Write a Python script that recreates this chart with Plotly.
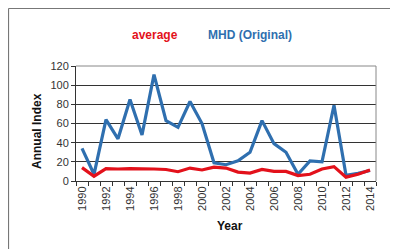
import plotly.graph_objects as go

years = [str(y) for y in range(1990, 2015)]
mhd_original = [34, 7, 64, 44, 85, 48, 111, 63, 56, 83, 60, 19, 17, 21, 30, 63, 39, 30, 7, 21, 20, 79, 6, 8, 11]
average = [14, 5, 13, 12.5, 13, 13, 12.5, 12, 9.7, 13.5, 11.5, 14.5, 13.5, 9.3, 8.3, 12, 10, 10, 5.6, 7, 12.5, 15, 4, 7, 11.5]
y_ticks = [0, 20, 40, 60, 80, 100, 120]
x_tick_text = [y if i % 2 == 0 else "" for i, y in enumerate(years)]

# page body has an 8px default margin; work in screen coords minus 8
OFF = 8
W, H = 398, 249
ml, mt = 76 - OFF, 66 - OFF
pw, ph = 300, 115
mr = W - ml - pw
mb = H - mt - ph

def px(x):
    return (x - OFF - ml) / pw

def py(y):
    return (H - mb - (y - OFF)) / ph

fig = go.Figure()
fig.add_trace(go.Scatter(x=years, y=mhd_original, mode="lines", name="MHD (Original)",
                         line=dict(color="#2F6FAF", width=3.2)))
fig.add_trace(go.Scatter(x=years, y=average, mode="lines", name="average",
                         line=dict(color="#E3111B", width=3.2)))

fig.update_layout(
    width=W, height=H,
    margin=dict(l=ml, r=mr, t=mt, b=mb),
    paper_bgcolor="white", plot_bgcolor="white",
    showlegend=False,
    font=dict(family="Liberation Sans, Arial", color="#222222", size=11),
)
fig.update_xaxes(
    type="category", tickangle=-90, tickson="boundaries", ticks="outside",
    ticklen=4, tickcolor="#333333", showline=True, linecolor="#333333", linewidth=1,
    tickvals=years, ticktext=x_tick_text,
    tickfont=dict(size=11, color="#333333"), showgrid=False,
    mirror=False, range=[-0.5, 24.5],
)
fig.update_yaxes(
    range=[0, 120], tickvals=y_ticks, ticks="outside", ticklen=4, tickcolor="#333333",
    showline=True, linecolor="#333333", linewidth=1, showgrid=True,
    gridcolor="#333333", gridwidth=1, tickfont=dict(size=11, color="#333333"),
    zeroline=False,
)
# plot area border right/top
fig.add_shape(type="line", xref="paper", yref="paper", x0=1, x1=1, y0=0, y1=1,
              line=dict(color="#888888", width=1))
fig.add_shape(type="line", xref="paper", yref="paper", x0=0, x1=1, y0=1, y1=1,
              line=dict(color="#888888", width=1))
# outer chart frame
fig.add_shape(type="line", xref="paper", yref="paper", x0=px(8.5), x1=px(420), y0=py(8.5), y1=py(8.5),
              line=dict(color="#777777", width=1.2))
fig.add_shape(type="line", xref="paper", yref="paper", x0=px(8.5), x1=px(8.5), y0=py(8.5), y1=py(270),
              line=dict(color="#777777", width=1.2))

# legend as text
fig.add_annotation(x=px(155), y=py(35), xref="paper", yref="paper", text="<b>average</b>",
                   showarrow=False, font=dict(size=12, color="#E3111B"), xanchor="center", yanchor="middle")
fig.add_annotation(x=px(250), y=py(35), xref="paper", yref="paper", text="<b>MHD (Original)</b>",
                   showarrow=False, font=dict(size=12, color="#2F6FAF"), xanchor="center", yanchor="middle")
# axis titles
fig.add_annotation(x=px(37), y=py(131), xref="paper", yref="paper", text="<b>Annual Index</b>",
                   showarrow=False, textangle=-90, font=dict(size=12, color="#111111"),
                   xanchor="center", yanchor="middle")
fig.add_annotation(x=px(230), y=py(226), xref="paper", yref="paper", text="<b>Year</b>",
                   showarrow=False, font=dict(size=12, color="#111111"),
                   xanchor="center", yanchor="middle")

fig.write_html("out.html")
